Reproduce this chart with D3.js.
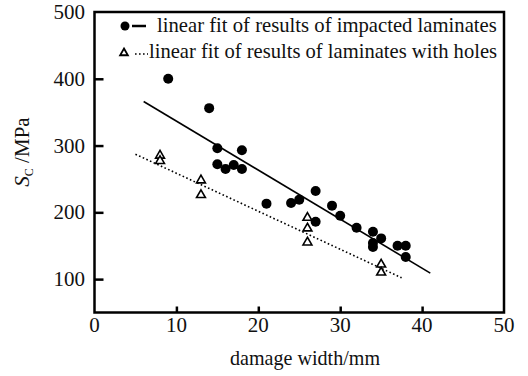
<!DOCTYPE html>
<html>
<head>
<meta charset="utf-8">
<script src="https://cdnjs.cloudflare.com/ajax/libs/d3/7.8.5/d3.min.js"></script>
<style>
  body { margin: 0; background: #fff; }
  text { font-family: "Liberation Serif", "DejaVu Serif", serif; fill: #111; }
</style>
</head>
<body>
<div class="C"></div>
<script>
// impacted laminates (filled circles)
var impactedX = [9, 14, 15, 18, 15, 16, 17, 18, 21, 24, 25, 27, 29, 30, 27, 32, 34, 35, 34, 34, 37, 38, 38];
var impactedY = [400, 356, 296, 293, 272, 265, 271, 265, 213, 214, 219, 232, 210, 195, 186, 177, 171, 161, 154, 148, 150, 150, 133];
// laminates with holes (open triangles)
var holesX = [8, 8, 13, 13, 26, 26, 26, 35, 35];
var holesY = [285, 277, 248, 226, 192, 176, 155, 122, 110];
// linear fits, end points
var fitImpacted = [[6, 366], [41, 109]];
var fitHoles = [[5, 287], [37.5, 102]];

var xTicks = [0, 10, 20, 30, 40, 50];
var yTicks = [100, 200, 300, 400, 500];
var legendLabels = ['linear fit of results of impacted laminates', 'linear fit of results of laminates with holes'];

var W = 528, H = 376;
var svg = d3.select('.C').append('svg').attr('width', W).attr('height', H);

var x = d3.scaleLinear().domain([0, 50]).range([94.5, 504]);
var y = d3.scaleLinear().domain([50, 500]).range([312.5, 12]);

// stretch a text to a width by its font size
function fitWidth(t, w) {
    var fs = parseFloat(t.style('font-size'));
    var len = t.node().getComputedTextLength();
    t.style('font-size', (fs * w / len).toFixed(2) + 'px');
}

// frame
svg.append('rect')
    .attr('x', x(0)).attr('y', y(500))
    .attr('width', x(50) - x(0)).attr('height', y(50) - y(500))
    .style('fill', 'none').style('stroke', '#000').style('stroke-width', 2.5);

// y axis, ticks pointing inward
var yAxis = svg.append('g').attr('transform', 'translate(' + x(0) + ',0)')
    .call(d3.axisRight(y).tickValues(yTicks.slice(0, 4)).tickSize(9).tickFormat(''));
yAxis.select('.domain').remove();
yAxis.selectAll('line').style('stroke', '#000').style('stroke-width', 2.5);
svg.append('g').selectAll('text').data(yTicks).enter().append('text')
    .attr('x', 85).attr('y', function (d) { return y(d) + 7; })
    .attr('text-anchor', 'end').style('font-size', '21px')
    .text(function (d) { return d; });

// x axis, ticks pointing inward
var xAxis = svg.append('g').attr('transform', 'translate(0,' + y(50) + ')')
    .call(d3.axisTop(x).tickValues(xTicks.slice(1, 5)).tickSize(6).tickFormat(''));
xAxis.select('.domain').remove();
xAxis.selectAll('line').style('stroke', '#000').style('stroke-width', 2.5);
svg.append('g').selectAll('text').data(xTicks).enter().append('text')
    .attr('x', function (d) { return x(d); }).attr('y', 332)
    .attr('text-anchor', 'middle').style('font-size', '21px')
    .text(function (d) { return d; });

var xl = svg.append('text').attr('x', 305).attr('y', 365)
    .attr('text-anchor', 'middle').style('font-size', '19px')
    .text('damage width/mm');
fitWidth(xl, 150);

var yl = svg.append('text')
    .attr('transform', 'translate(29,152) rotate(-90)')
    .attr('text-anchor', 'middle').style('font-size', '21px');
yl.append('tspan').style('font-style', 'italic').text('S');
yl.append('tspan').attr('dy', 4).style('font-size', '12px').text('C');
yl.append('tspan').attr('dy', -4).text(' /MPa');

// fit lines
var line = d3.line().x(function (d) { return x(d[0]); }).y(function (d) { return y(d[1]); });
svg.append('path').attr('d', line(fitImpacted))
    .style('fill', 'none').style('stroke', '#000').style('stroke-width', 1.6);
svg.append('path').attr('d', line(fitHoles))
    .style('fill', 'none').style('stroke', '#000').style('stroke-width', 1.6)
    .style('stroke-dasharray', '1.6,2.4');

// points
svg.append('g').selectAll('circle').data(impactedX).enter().append('circle')
    .attr('cx', function (d) { return x(d); })
    .attr('cy', function (d, i) { return y(impactedY[i]); })
    .attr('r', 5).style('fill', '#000');

var tri = d3.symbol().type(d3.symbolTriangle).size(34);
svg.append('g').selectAll('path').data(holesX).enter().append('path')
    .attr('d', tri)
    .attr('transform', function (d, i) { return 'translate(' + x(d) + ',' + y(holesY[i]) + ')'; })
    .style('fill', '#fff').style('stroke', '#000').style('stroke-width', 1.6);

// legend
svg.append('circle').attr('cx', 125).attr('cy', 26).attr('r', 4.5).style('fill', '#000');
svg.append('line').attr('x1', 132).attr('x2', 146).attr('y1', 26).attr('y2', 26)
    .style('stroke', '#000').style('stroke-width', 2.5);
svg.append('path').attr('d', d3.symbol().type(d3.symbolTriangle).size(26))
    .attr('transform', 'translate(124,53)')
    .style('fill', '#fff').style('stroke', '#000').style('stroke-width', 1.8);
svg.append('line').attr('x1', 135).attr('x2', 148).attr('y1', 54).attr('y2', 54)
    .style('stroke', '#000').style('stroke-width', 1.6).style('stroke-dasharray', '1.6,2.4');
var l1 = svg.append('text').attr('x', 157).attr('y', 32).style('font-size', '18px').text(legendLabels[0]);
var l2 = svg.append('text').attr('x', 149).attr('y', 58).style('font-size', '18px').text(legendLabels[1]);
fitWidth(l1, 340);
fitWidth(l2, 348);
</script>
</body>
</html>
